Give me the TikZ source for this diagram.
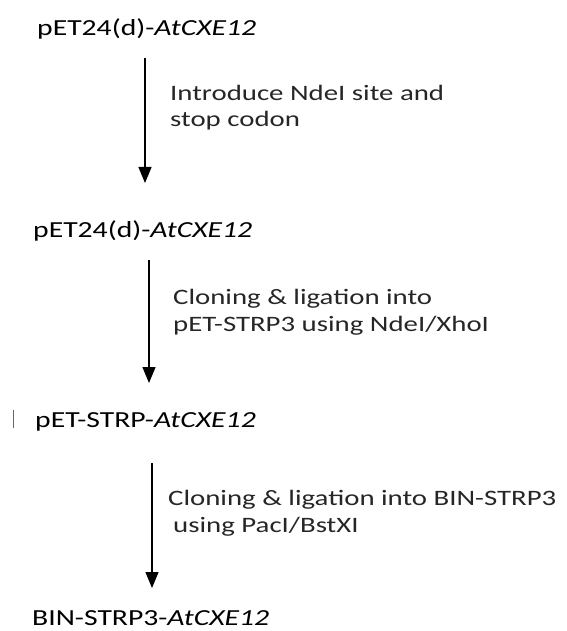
\documentclass[tikz,border=0pt]{standalone}
\usepackage{fontspec}
\setmainfont{Carlito}[FakeStretch=1.29]
\newfontfamily\notefont{Carlito}[FakeStretch=1.31]
\usetikzlibrary{arrows.meta}

\begin{document}
\begin{tikzpicture}[x=1pt,y=-1pt]
  \tikzstyle{plasmid}=[anchor=base west,inner sep=0pt,font=\fontsize{23}{27}\selectfont]
  \tikzstyle{note}=[anchor=base west,inner sep=0pt,align=left,text=black!85,
    font=\notefont\fontsize{22}{26.5}\selectfont]
  \tikzstyle{steparrow}=[line width=1.4pt,-{Triangle[length=16pt,width=13pt]}]
  \useasboundingbox (0,0) rectangle (566,631);
  %
  % Constructs
  \node[plasmid] (p1) at (37,36) {pET24(d)-\textit{AtCXE12}};
  \node[plasmid] (p2) at (33,237) {pET24(d)-\textit{AtCXE12}};
  \node[plasmid] (p3) at (35,427) {pET-STRP-\textit{AtCXE12}};
  \node[plasmid] (p4) at (32,625) {BIN-STRP3-\textit{AtCXE12}};
  %
  % Steps
  \coordinate (s1) at (145,58);
  \coordinate (t1) at (145,183);
  \coordinate (s2) at (149,260);
  \coordinate (t2) at (149,383);
  \coordinate (s3) at (152,463);
  \coordinate (t3) at (152,588);

  \draw[steparrow] (s1) -- (t1);
  \draw[steparrow] (s2) -- (t2);
  \draw[steparrow] (s3) -- (t3);

  % base anchor sits on the last line
  \node[note] (n1) at (170,127) {Introduce NdeI site and\\stop codon};
  \node[note] (n2) at (173,331) {Cloning \& ligation into\\pET-STRP3 using NdeI/XhoI};
  \node[note] (n3) at (168,532) {Cloning \& ligation into BIN-STRP3\\\hspace*{5pt}using PacI/BstXI};

  %\node[left] at (p3.west) {};
  \draw[black!60,line width=0.8pt] (13,410) -- (13,428);
\end{tikzpicture}
\end{document}
